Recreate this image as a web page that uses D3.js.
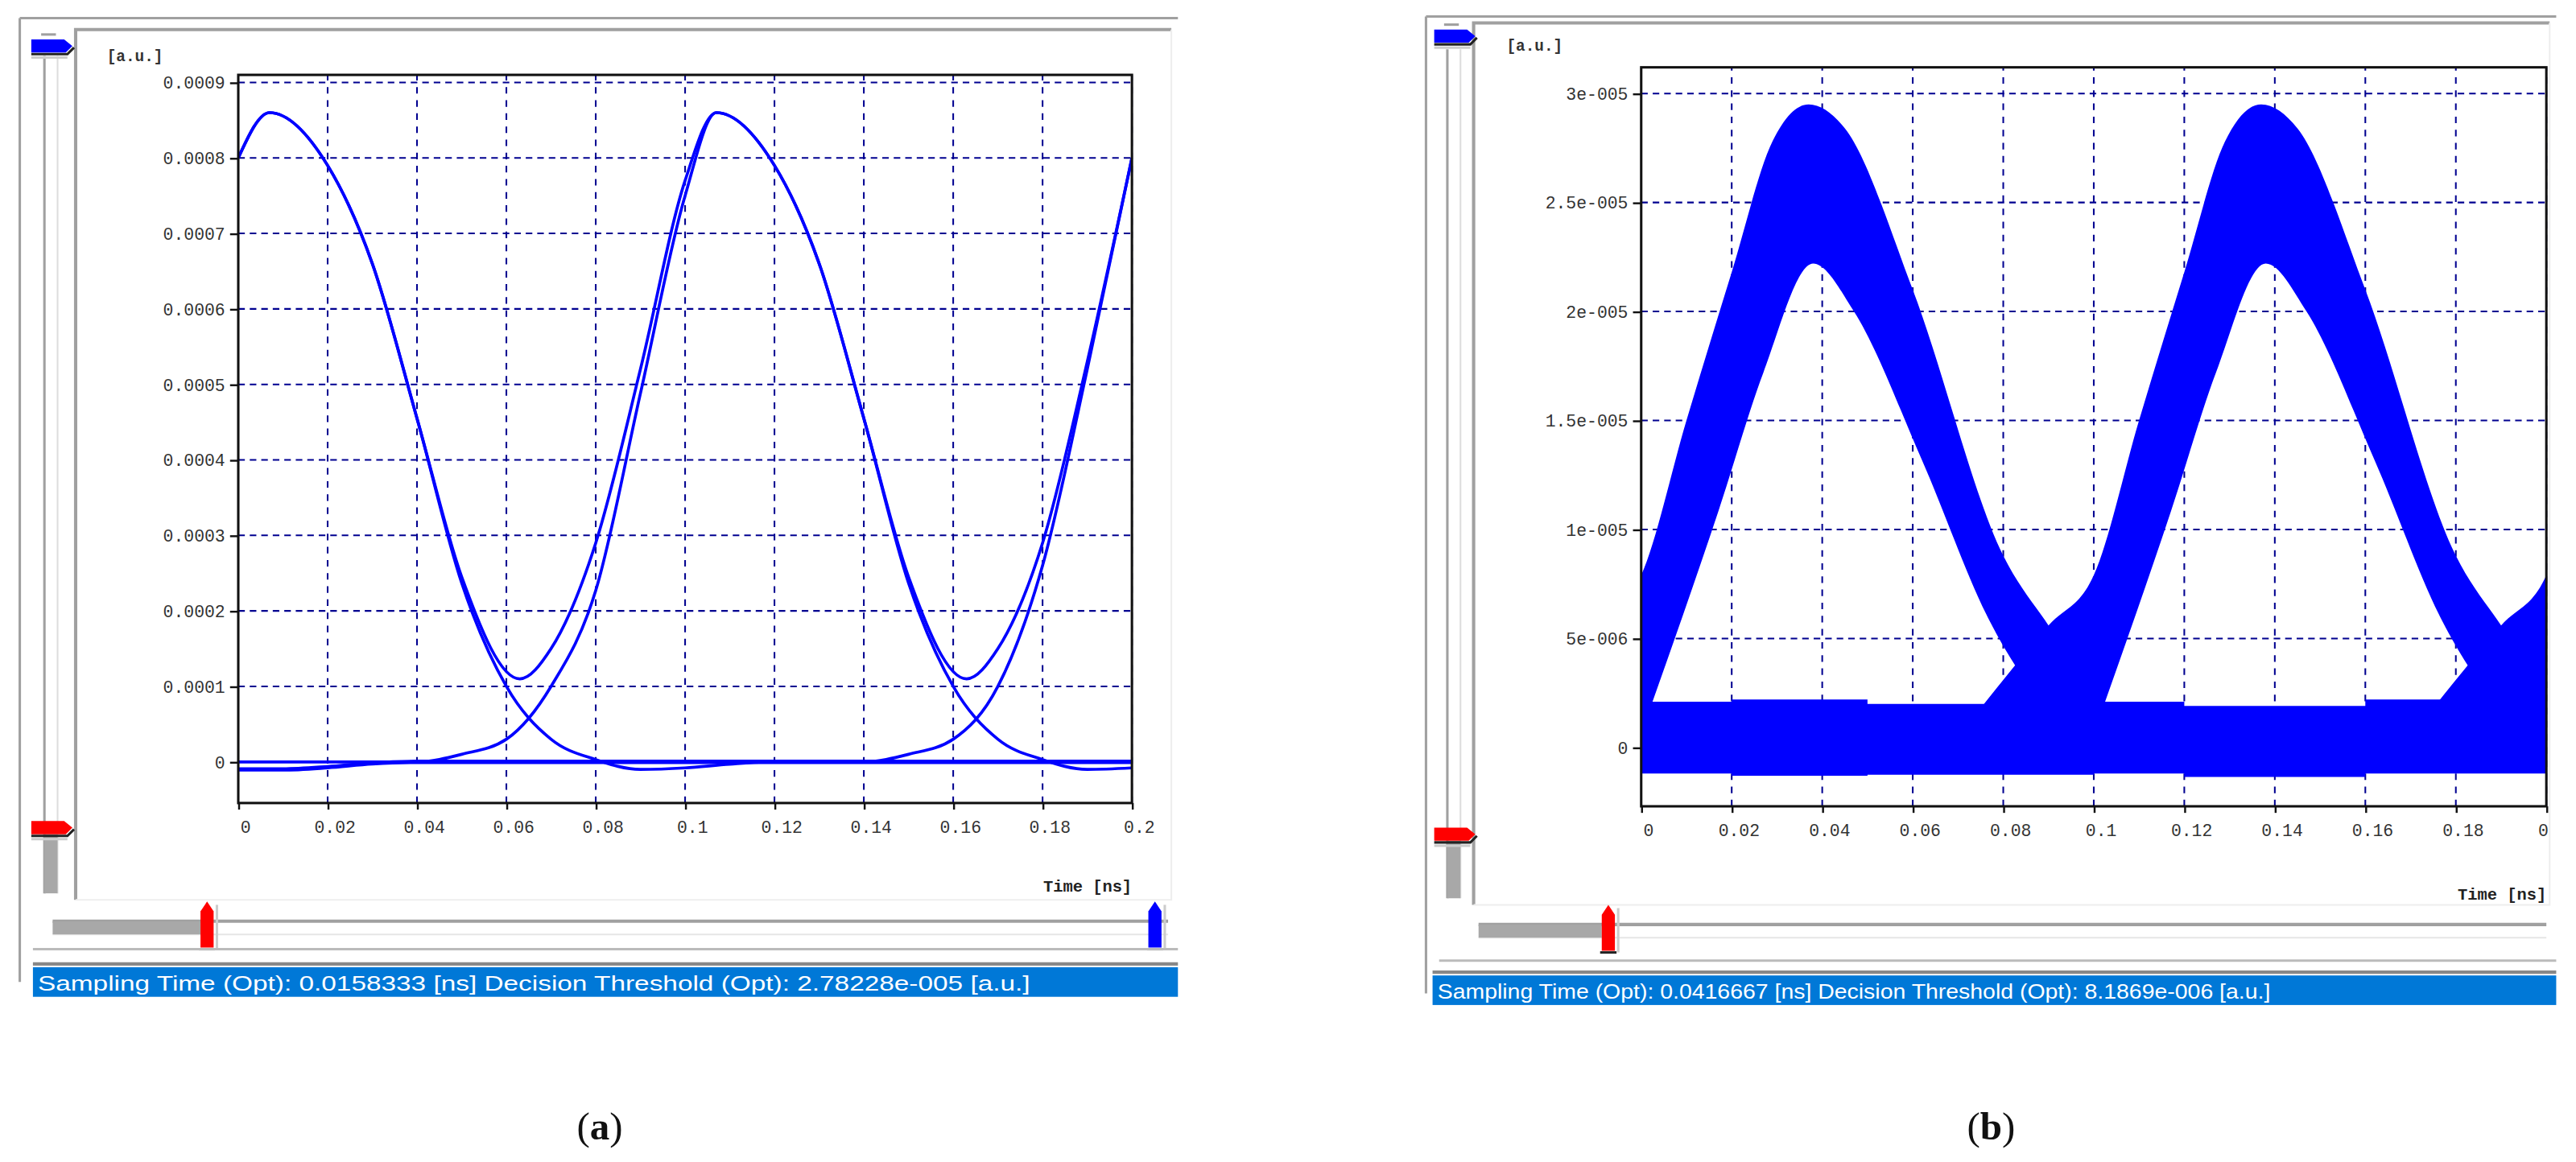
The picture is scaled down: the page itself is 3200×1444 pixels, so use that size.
<!DOCTYPE html>
<html><head><meta charset="utf-8">
<script src="https://cdn.jsdelivr.net/npm/d3@7"></script>
<style>html,body{margin:0;padding:0;background:#fff;overflow:hidden}</style>
</head><body>
<svg id="c" width="3200" height="1444" viewBox="0 0 1568 707.6"></svg>
<script>
// ---------- DATA ----------
const xTicks = [0,0.02,0.04,0.06,0.08,0.1,0.12,0.14,0.16,0.18,0.2];
const xTickLabels = ["0","0.02","0.04","0.06","0.08","0.1","0.12","0.14","0.16","0.18","0.2"];
const yTicksA = [0,0.0001,0.0002,0.0003,0.0004,0.0005,0.0006,0.0007,0.0008,0.0009];
const yTickLabelsA = ["0","0.0001","0.0002","0.0003","0.0004","0.0005","0.0006","0.0007","0.0008","0.0009"];
const yTicksB = [0,5e-6,1e-5,1.5e-5,2e-5,2.5e-5,3e-5];
const yTickLabelsB = ["0","5e-006","1e-005","1.5e-005","2e-005","2.5e-005","3e-005"];

// panel (a) traces: [time ns, amplitude a.u.]
const traceOnes = [[0,0.0008],[0.007,0.00086],[0.02,0.00079],[0.03,0.00066],[0.04,0.000455],[0.05,0.000245],[0.063,0.00011],[0.07,0.00015],[0.08,0.00029],[0.09,0.00052],[0.1,0.00077],[0.107,0.00086],[0.12,0.00079],[0.13,0.00066],[0.14,0.000455],[0.15,0.000245],[0.163,0.00011],[0.17,0.00015],[0.18,0.00029],[0.19,0.00053],[0.2,0.0008]];
const traceFallFirst = [[0,0.0008],[0.007,0.00086],[0.02,0.00079],[0.03,0.00066],[0.04,0.000455],[0.05,0.000237],[0.06,0.0001],[0.07,0.00003],[0.08,0.000003],[0.09,-0.00001],[0.1,-0.000008],[0.11,-0.000003],[0.12,0],[0.2,0]];
const traceMiddle = [[0,0],[0.04,0],[0.05,0.00001],[0.06,0.00003],[0.07,0.0001],[0.08,0.000227],[0.09,0.000488],[0.1,0.00075],[0.107,0.00086],[0.12,0.00079],[0.13,0.00066],[0.14,0.000455],[0.15,0.000237],[0.16,0.0001],[0.17,0.00003],[0.18,0.000003],[0.19,-0.00001],[0.2,-0.000008]];
const traceRiseLast = [[0,0],[0.14,0],[0.15,0.00001],[0.16,0.00003],[0.17,0.0001],[0.18,0.00026],[0.19,0.00052],[0.2,0.0008]];
const traceZero = [[0,-0.00001],[0.01,-0.00001],[0.02,-0.000007],[0.03,-0.000002],[0.04,0],[0.2,0]];
const tracesA = [traceOnes, traceFallFirst, traceMiddle, traceRiseLast, traceZero];

// panel (b) eye: pulse envelopes relative to each pulse centre [dt ns, value]
const pulseCentres = [-0.063, 0.037, 0.137, 0.237];
const pulseOuter = [[-0.062,1.8e-6],[-0.047,5.6e-6],[-0.037,7.9e-6],[-0.027,1.5e-5],[-0.017,2.18e-5],[-0.008,2.78e-5],[0,2.95e-5],[0.008,2.84e-5],[0.023,2.1e-5],[0.043,8.8e-6],[0.053,5.6e-6],[0.066,1.8e-6]];
const pulseInner = [[-0.035,1.8e-6],[-0.02,1.08e-5],[-0.01,1.72e-5],[0.001,2.22e-5],[0.01,2.0e-5],[0.025,1.32e-5],[0.04,5.8e-6],[0.052,1.8e-6]];
const zeroBand = [[0,2.1e-6,-1.2e-6],[0.02,2.2e-6,-1.3e-6],[0.05,2.0e-6,-1.25e-6],[0.1,2.1e-6,-1.2e-6],[0.12,1.9e-6,-1.35e-6],[0.16,2.2e-6,-1.2e-6],[0.2,2.1e-6,-1.25e-6]];

const statusA = "Sampling Time (Opt): 0.0158333 [ns] Decision Threshold (Opt): 2.78228e-005 [a.u.]";
const statusB = "Sampling Time (Opt): 0.0416667 [ns] Decision Threshold (Opt): 8.1869e-006 [a.u.]";

// ---------- DRAW ----------
const svg = d3.select("#c");
const gray = "#a0a0a0", blue = "#0000ff", grid = "#000090", mono = "'Liberation Mono','DejaVu Sans Mono',monospace";

function chrome(o) {
  const g = svg.append("g");
  g.append("line").attr("x1",o.ox).attr("x2",o.right+4).attr("y1",o.oy).attr("y2",o.oy).attr("stroke",gray).attr("stroke-width",1.5);
  g.append("line").attr("x1",o.ox).attr("x2",o.ox).attr("y1",o.oy).attr("y2",o.sepY+20).attr("stroke",gray).attr("stroke-width",1.5);
  g.append("rect").attr("x",o.fx).attr("y",o.fy).attr("width",o.right-o.fx).attr("height",o.fb-o.fy).attr("fill","#fff").attr("stroke","none");
  g.append("path").attr("d",`M${o.fx},${o.fb}V${o.fy}H${o.right}`).attr("fill","none").attr("stroke",gray).attr("stroke-width",2);
  g.append("path").attr("d",`M${o.fx},${o.fb}H${o.right}V${o.fy}`).attr("fill","none").attr("stroke","#eee").attr("stroke-width",1);
  const vx = o.vx;
  g.append("line").attr("x1",vx).attr("x2",vx).attr("y1",o.fy+16).attr("y2",o.fb-4).attr("stroke",gray).attr("stroke-width",1.5);
  g.append("line").attr("x1",vx+8).attr("x2",vx+8).attr("y1",o.fy+16).attr("y2",o.fb-4).attr("stroke","#ddd").attr("stroke-width",1);
  g.append("rect").attr("x",vx).attr("y",o.redY+8).attr("width",8).attr("height",o.fb-o.redY-12).attr("fill","#a8a8a8");
  const arrowH = (x,y,col)=>{
    g.append("path").attr("d",`M${x},${y+9}H${x+22}L${x+26},${y+5}`).attr("fill","none").attr("stroke","#222").attr("stroke-width",1.5);
    g.append("path").attr("d",`M${x},${y}H${x+20}L${x+25},${y+4}L${x+21},${y+8}H${x}Z`).attr("fill",col);
    g.append("line").attr("x1",x).attr("x2",x+22).attr("y1",y+11).attr("y2",y+11).attr("stroke","#ccc").attr("stroke-width",1.5);
  };
  arrowH(o.ax, o.ay, blue);
  arrowH(o.ax, o.redY, "#ff0000");
  g.append("line").attr("x1",o.ax+6).attr("x2",o.ax+15).attr("y1",o.ay-3).attr("y2",o.ay-3).attr("stroke",gray).attr("stroke-width",1.5);
  const hy = o.hy;
  g.append("line").attr("x1",o.hx).attr("x2",o.right-2).attr("y1",hy).attr("y2",hy).attr("stroke",gray).attr("stroke-width",2);
  g.append("line").attr("x1",o.hx).attr("x2",o.right-2).attr("y1",hy+8).attr("y2",hy+8).attr("stroke","#e6e6e6").attr("stroke-width",1);
  g.append("rect").attr("x",o.hx).attr("y",hy).attr("width",o.thumb-o.hx).attr("height",8).attr("fill","#a8a8a8");
  const arrowV = (x,col)=>{
    g.append("path").attr("d",`M${x},${hy+16}V${hy-6}L${x+4},${hy-12}L${x+8},${hy-6}V${hy+16}Z`).attr("fill",col);
    g.append("path").attr("d",`M${x-1},${hy+17}H${x+9}`).attr("stroke","#222").attr("stroke-width",1.5);
    g.append("path").attr("d",`M${x+10},${hy-10}V${hy+17}`).attr("stroke","#ccc").attr("stroke-width",1.5);
  };
  arrowV(o.thumb, "#ff0000");
  if (o.blueThumb) arrowV(o.blueThumb, blue);
  g.append("line").attr("x1",o.ox+8).attr("x2",o.right+4).attr("y1",o.sepY).attr("y2",o.sepY).attr("stroke","#bbb").attr("stroke-width",1.5);
  g.append("line").attr("x1",o.sx).attr("x2",o.right+4).attr("y1",o.sbY-2).attr("y2",o.sbY-2).attr("stroke","#888").attr("stroke-width",2);
  g.append("rect").attr("x",o.sx).attr("y",o.sbY).attr("width",o.right+4-o.sx).attr("height",18).attr("fill","#0078d7");
  g.append("text").attr("x",o.sx+3).attr("y",o.sbY+14).attr("fill","#fff").attr("font-family","'Liberation Sans',Arial,sans-serif")
    .attr("font-size",13).attr("textLength",o.textLen).attr("lengthAdjust","spacingAndGlyphs").text(o.status);
}

function gridLines(x, y, yt) {
  const g = svg.append("g");
  const [x0,x1] = x.range(), [y0,y1] = y.range();
  g.selectAll(".gx").data(xTicks.slice(1)).join("line").attr("x1",d=>x(d)).attr("x2",d=>x(d)).attr("y1",y0).attr("y2",y1)
    .attr("stroke",grid).attr("stroke-width",1).attr("stroke-dasharray","4,4");
  g.selectAll(".gy").data(yt).join("line").attr("x1",x0).attr("x2",x1).attr("y1",d=>y(d)).attr("y2",d=>y(d))
    .attr("stroke",grid).attr("stroke-width",1).attr("stroke-dasharray","4,3");
}
function frameAxes(o, x, y, yt, ytl) {
  const g = svg.append("g");
  const [x0,x1] = x.range(), [y0,y1] = y.range();
  g.append("rect").attr("x",x0).attr("y",y1).attr("width",x1-x0).attr("height",y0-y1).attr("fill","none").attr("stroke","#111").attr("stroke-width",1.5);
  const xa = d3.axisBottom(x).tickValues(xTicks).tickFormat((d,i)=>xTickLabels[i]).tickSize(4).tickSizeOuter(0);
  const gx = g.append("g").attr("transform",`translate(0,${y0})`).call(xa);
  gx.select(".domain").remove();
  gx.selectAll("line").attr("stroke","#111").attr("stroke-width",1.2);
  gx.selectAll("text").attr("font-family",mono).attr("font-size",10.5).attr("fill","#333").attr("dy","1.05em").attr("dx","4");
  const ya = d3.axisLeft(y).tickValues(yt).tickFormat((d,i)=>ytl[i]).tickSize(5).tickSizeOuter(0);
  const gy = g.append("g").attr("transform",`translate(${x0},0)`).call(ya);
  gy.select(".domain").remove();
  gy.selectAll("line").attr("stroke","#111").attr("stroke-width",1.2);
  gy.selectAll("text").attr("font-family",mono).attr("font-size",10.5).attr("fill","#333");
  g.append("text").attr("x",o.auX).attr("y",o.auY).attr("font-family",mono).attr("font-size",9.5).attr("font-weight","bold").attr("fill","#333").text("[a.u.]");
  g.append("text").attr("x",x1).attr("y",o.timeY).attr("text-anchor","end").attr("font-family",mono).attr("font-size",10).attr("font-weight","bold").attr("fill","#222").text("Time [ns]");
}

// ---- Panel (a)
const A = {ox:12,oy:11,fx:46,fy:18,fb:548,right:713,vx:27,ax:19,ay:24,redY:500,hx:32,hy:561,thumb:122,blueThumb:699,sepY:578,sx:20,sbY:589,status:statusA,textLen:604,auX:65,auY:37,timeY:543};
chrome(A);
const xA = d3.scaleLinear().domain([0,0.2]).range([145,689]);
const yA = d3.scaleLinear().domain([-0.0000545,0.00091]).range([489,45.6]);
gridLines(xA,yA,yTicksA);
const defs = svg.append("defs");
defs.append("clipPath").attr("id","clipA").append("rect").attr("x",145).attr("y",45.6).attr("width",544).attr("height",443.4);
const lineA = d3.line().x(d=>xA(d[0])).y(d=>yA(d[1])).curve(d3.curveMonotoneX);
svg.append("g").attr("clip-path","url(#clipA)").selectAll("path").data(tracesA).join("path")
  .attr("d",lineA).attr("fill","none").attr("stroke",blue).attr("stroke-width",(d,i)=>i===4?2.6:1.8);
frameAxes(A,xA,yA,yTicksA,yTickLabelsA);

// ---- Panel (b)
const B = {ox:868,oy:10,fx:897,fy:14,fb:551,right:1552,vx:881,ax:873,ay:18,redY:504,hx:900,hy:563,thumb:975,blueThumb:null,sepY:585,sx:872,sbY:594,status:statusB,textLen:507,auX:917,auY:31,timeY:548};
chrome(B);
const xB = d3.scaleLinear().domain([0,0.2]).range([999,1550]);
const yB = d3.scaleLinear().domain([-2.7e-6,3.12e-5]).range([491,41]);
gridLines(xB,yB,yTicksB);
defs.append("clipPath").attr("id","clipB").append("rect").attr("x",999).attr("y",41).attr("width",551).attr("height",450);
const gEye = svg.append("g").attr("clip-path","url(#clipB)");
const area0 = d3.area().x(d=>xB(d[0])).y0(d=>yB(d[2])).y1(d=>yB(d[1])).curve(d3.curveStepAfter);
gEye.append("path").attr("d",area0(zeroBand)).attr("fill",blue);
const lineB = d3.line().x(d=>xB(d[0])).y(d=>yB(d[1])).curve(d3.curveMonotoneX);
pulseCentres.forEach(c=>{
  const outer = pulseOuter.map(d=>[c+d[0],d[1]]);
  const inner = pulseInner.map(d=>[c+d[0],d[1]]);
  gEye.append("path").attr("d", lineB(outer)+"Z"+lineB(inner.slice().reverse())+"Z").attr("fill",blue).attr("fill-rule","evenodd");
});
frameAxes(B,xB,yB,yTicksB,yTickLabelsB);
svg.append("rect").attr("x",1553).attr("y",495).attr("width",20).attr("height",20).attr("fill","#fff");

// ---- sub-labels
[["a",365],["b",1212]].forEach(([l,x])=>{
  const t = svg.append("text").attr("x",x).attr("y",694).attr("text-anchor","middle").attr("font-family","'Liberation Serif','Times New Roman',serif").attr("font-size",24).attr("fill","#111");
  t.append("tspan").text("(");
  t.append("tspan").attr("font-weight","bold").text(l);
  t.append("tspan").text(")");
});
</script>
</body></html>
